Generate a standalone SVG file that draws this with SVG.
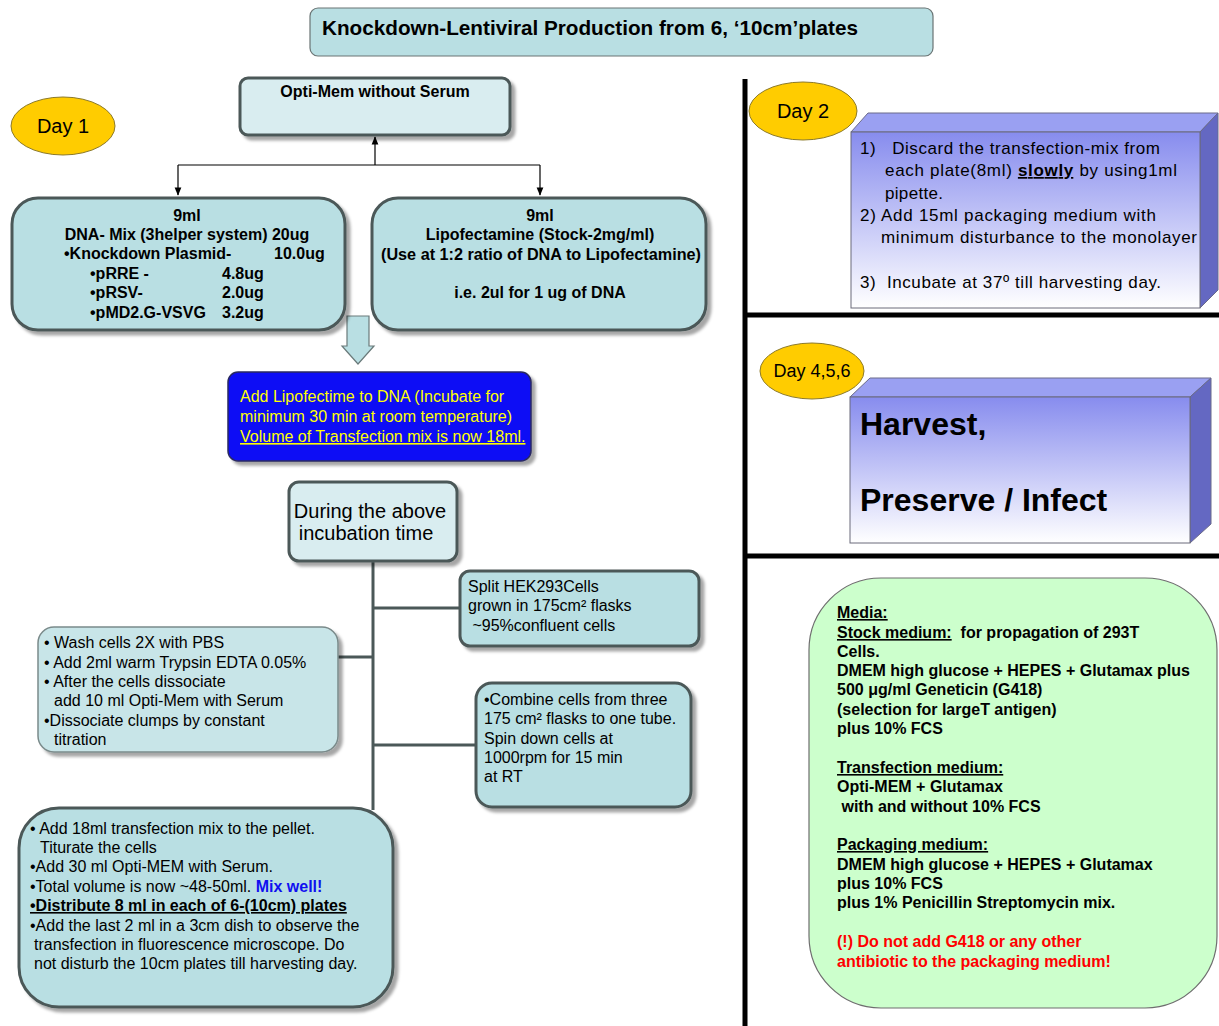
<svg xmlns="http://www.w3.org/2000/svg" width="1219" height="1026" viewBox="0 0 1219 1026">
<defs>
<style>
text{font-family:"Liberation Sans",Arial,sans-serif;fill:#000}
.b{font-weight:bold}
.t16{font-size:16px}
.box{fill:#B9DFE3;stroke:#4B5858;stroke-width:3}
.boxl{fill:#D9EDF0;stroke:#4B5858;stroke-width:3}
.day{fill:#FFCC00;stroke:#8C7A2A;stroke-width:1}
.tree{stroke:#4B5858;stroke-width:3;fill:none}
.bar{stroke:#000;stroke-width:5;fill:none}
.conn{stroke:#000;stroke-width:1.2;fill:none}
</style>
<filter id="sh" x="-10%" y="-10%" width="130%" height="130%">
<feDropShadow dx="4" dy="4" stdDeviation="1.5" flood-color="#000" flood-opacity="0.35"/>
</filter>
<marker id="ah" viewBox="0 0 10 10" refX="9" refY="5" markerWidth="7" markerHeight="7" orient="auto">
<path d="M0,1 L10,5 L0,9 z" fill="#000"/>
</marker>
<linearGradient id="pg" x1="0" y1="0" x2="0" y2="1">
<stop offset="0" stop-color="#878CEE"/>
<stop offset="1" stop-color="#FFFFFF"/>
</linearGradient>
</defs>
<rect width="1219" height="1026" fill="#fff"/>

<g id="dividers">
<line class="bar" x1="745" y1="79" x2="745" y2="1026"/>
<line class="bar" x1="745" y1="315" x2="1219" y2="315"/>
<line class="bar" x1="745" y1="556" x2="1219" y2="556"/>
</g>

<g id="title">
<rect x="310" y="8" width="623" height="48" rx="8" fill="#B9DFE3" stroke="#6A7474" stroke-width="1.2"/>
<text x="322" y="35" class="b" font-size="21" textLength="536" lengthAdjust="spacingAndGlyphs">Knockdown-Lentiviral Production from 6, ‘10cm’plates</text>
</g>

<g id="connectors">
<line class="conn" x1="375" y1="165" x2="375" y2="137" marker-end="url(#ah)"/>
<line class="conn" x1="178" y1="165" x2="540" y2="165"/>
<line class="conn" x1="178" y1="165" x2="178" y2="195" marker-end="url(#ah)"/>
<line class="conn" x1="540" y1="165" x2="540" y2="195" marker-end="url(#ah)"/>
<path d="M347,316 H369 V346 H374 L358,364 L342,346 H347 Z" fill="#B9DFE3" stroke="#6A7A7A" stroke-width="1.2"/>
<line class="tree" x1="373" y1="561" x2="373" y2="810"/>
<line class="tree" x1="373" y1="608" x2="461" y2="608"/>
<line class="tree" x1="338" y1="657" x2="373" y2="657"/>
<line class="tree" x1="373" y1="745" x2="477" y2="745"/>
</g>

<g id="day1">
<ellipse class="day" cx="63" cy="126" rx="52" ry="29"/>
<text x="63" y="133" font-size="20" text-anchor="middle">Day 1</text>
</g>

<g id="optimem">
<rect class="boxl" x="240" y="78" width="270" height="57" rx="8" filter="url(#sh)"/>
<text x="375" y="97" class="b" font-size="16" text-anchor="middle">Opti-Mem without Serum</text>
</g>

<g id="dnamix">
<rect class="box" x="12" y="198" width="333" height="132" rx="26" filter="url(#sh)"/>
<g class="b t16">
<text x="187" y="221" text-anchor="middle">9ml</text>
<text x="187" y="240" text-anchor="middle">DNA- Mix (3helper system) 20ug</text>
<text x="64" y="259">•Knockdown Plasmid-</text>
<text x="274" y="259">10.0ug</text>
<text x="90" y="279">•pRRE -</text>
<text x="222" y="279">4.8ug</text>
<text x="90" y="298">•pRSV-</text>
<text x="222" y="298">2.0ug</text>
<text x="90" y="318">•pMD2.G-VSVG</text>
<text x="222" y="318">3.2ug</text>
</g>
</g>

<g id="lipofectamine">
<rect class="box" x="372" y="198" width="334" height="132" rx="26" filter="url(#sh)"/>
<g class="b t16" text-anchor="middle">
<text x="540" y="221">9ml</text>
<text x="540" y="240">Lipofectamine (Stock-2mg/ml)</text>
<text x="541" y="260" textLength="320" lengthAdjust="spacingAndGlyphs">(Use at 1:2 ratio of DNA to Lipofectamine)</text>
<text x="540" y="298">i.e. 2ul for 1 ug of DNA</text>
</g>
</g>

<g id="mix">
<rect x="228" y="372" width="303" height="89" rx="10" fill="#0A0AF5" stroke="#2A2A60" stroke-width="1.5" filter="url(#sh)"/>
<g class="t16">
<text x="240" y="402" style="fill:#FFFF00">Add Lipofectime to DNA (Incubate for</text>
<text x="240" y="422" style="fill:#FFFF00">minimum 30 min at room temperature)</text>
<text x="240" y="442" style="fill:#FFFF00" text-decoration="underline">Volume of Transfection mix is now 18ml.</text>
</g>
</g>

<g id="during">
<rect class="boxl" x="289" y="482" width="168" height="79" rx="10" filter="url(#sh)"/>
<text x="370" y="518" font-size="20" text-anchor="middle">During the above</text>
<text x="366" y="540" font-size="20" text-anchor="middle">incubation time</text>
</g>

<g id="split">
<rect class="box" x="460" y="571" width="239" height="75" rx="10" filter="url(#sh)"/>
<g class="t16">
<text x="468" y="592">Split HEK293Cells</text>
<text x="468" y="611">grown in 175cm² flasks</text>
<text x="468" y="631" xml:space="preserve"> ~95%confluent cells</text>
</g>
</g>

<g id="wash">
<rect x="38" y="627" width="300" height="125" rx="16" fill="#C8E5E8" stroke="#7A8A8A" stroke-width="1.5" filter="url(#sh)"/>
<g class="t16">
<text x="44" y="648">• Wash cells 2X with PBS</text>
<text x="44" y="668">• Add 2ml warm Trypsin EDTA 0.05%</text>
<text x="44" y="687">• After the cells dissociate</text>
<text x="54" y="706">add 10 ml Opti-Mem with Serum</text>
<text x="44" y="726">•Dissociate clumps by constant</text>
<text x="54" y="745">titration</text>
</g>
</g>

<g id="combine">
<rect class="box" x="476" y="683" width="215" height="124" rx="16" filter="url(#sh)"/>
<g class="t16">
<text x="484" y="705">•Combine cells from three</text>
<text x="484" y="724">175 cm² flasks to one tube.</text>
<text x="484" y="744">Spin down cells at</text>
<text x="484" y="763">1000rpm for 15 min</text>
<text x="484" y="782">at RT</text>
</g>
</g>

<g id="transfect">
<rect class="box" x="19" y="808" width="374" height="199" rx="40" filter="url(#sh)"/>
<g class="t16">
<text x="30" y="834">• Add 18ml transfection mix to the pellet.</text>
<text x="40" y="853">Titurate the cells</text>
<text x="30" y="872">•Add 30 ml Opti-MEM with Serum.</text>
<text x="30" y="892">•Total volume is now ~48-50ml. <tspan class="b" style="fill:#1010F0">Mix well!</tspan></text>
<text x="30" y="911" class="b" text-decoration="underline">•Distribute 8 ml in each of 6-(10cm) plates</text>
<text x="30" y="931">•Add the last 2 ml in a 3cm dish to observe the</text>
<text x="34" y="950">transfection  in fluorescence microscope. Do</text>
<text x="34" y="969">not disturb the 10cm plates till harvesting day.</text>
</g>
</g>

<g id="day2">
<ellipse class="day" cx="803" cy="111" rx="54" ry="29"/>
<text x="803" y="118" font-size="20" text-anchor="middle">Day 2</text>
</g>

<g id="day2box">
<polygon points="851,132 868,113 1218,113 1200,132" fill="#9AA0F2" stroke="#6A6A8A" stroke-width="1"/>
<polygon points="1200,132 1218,113 1218,290 1200,308" fill="#6468C2" stroke="#6A6A8A" stroke-width="1"/>
<rect x="851" y="132" width="349" height="176" fill="url(#pg)" stroke="#6A6A7A" stroke-width="1"/>
<g font-size="17">
<text x="860" y="154" xml:space="preserve" textLength="300" lengthAdjust="spacing">1)   Discard the transfection-mix from</text>
<text x="885" y="176" textLength="292" lengthAdjust="spacing">each plate(8ml) <tspan class="b" text-decoration="underline">slowly</tspan> by using1ml</text>
<text x="885" y="199" textLength="58" lengthAdjust="spacing">pipette.</text>
<text x="860" y="221" textLength="296" lengthAdjust="spacing">2) Add 15ml packaging medium with</text>
<text x="881" y="243" textLength="316" lengthAdjust="spacing">minimum disturbance to the monolayer</text>
<text x="860" y="288" xml:space="preserve" textLength="301" lengthAdjust="spacing">3)  Incubate at 37º till harvesting day.</text>
</g>
</g>

<g id="day456">
<ellipse class="day" cx="812" cy="371" rx="52" ry="28"/>
<text x="812" y="377" font-size="18" text-anchor="middle">Day 4,5,6</text>
</g>

<g id="harvest">
<polygon points="850,397 870,378 1211,378 1190,397" fill="#9AA0F2" stroke="#6A6A8A" stroke-width="1"/>
<polygon points="1190,397 1211,378 1211,524 1190,543" fill="#6468C2" stroke="#6A6A8A" stroke-width="1"/>
<rect x="850" y="397" width="340" height="146" fill="url(#pg)" stroke="#6A6A7A" stroke-width="1"/>
<text x="860" y="435" class="b" font-size="32">Harvest,</text>
<text x="860" y="511" class="b" font-size="32">Preserve / Infect</text>
</g>

<g id="media">
<rect x="809" y="578" width="408" height="430" rx="72" fill="#CCFFCC" stroke="#6E6E6E" stroke-width="1.2"/>
<g class="b t16">
<text x="837" y="618" text-decoration="underline">Media:</text>
<text x="837" y="638" xml:space="preserve"><tspan text-decoration="underline">Stock medium:</tspan>  for propagation of 293T</text>
<text x="837" y="657">Cells.</text>
<text x="837" y="676">DMEM high glucose + HEPES + Glutamax plus</text>
<text x="837" y="695">500 μg/ml Geneticin (G418)</text>
<text x="837" y="715">(selection for largeT antigen)</text>
<text x="837" y="734">plus 10% FCS</text>
<text x="837" y="773" text-decoration="underline">Transfection medium:</text>
<text x="837" y="792">Opti-MEM + Glutamax</text>
<text x="837" y="812" xml:space="preserve"> with and without 10% FCS</text>
<text x="837" y="850" text-decoration="underline">Packaging medium:</text>
<text x="837" y="870">DMEM high glucose + HEPES + Glutamax</text>
<text x="837" y="889">plus 10% FCS</text>
<text x="837" y="908">plus 1% Penicillin Streptomycin mix.</text>
<text x="837" y="947" style="fill:#FF0000">(!) Do not add G418 or any other</text>
<text x="837" y="967" style="fill:#FF0000">antibiotic to the packaging medium!</text>
</g>
</g>
</svg>
